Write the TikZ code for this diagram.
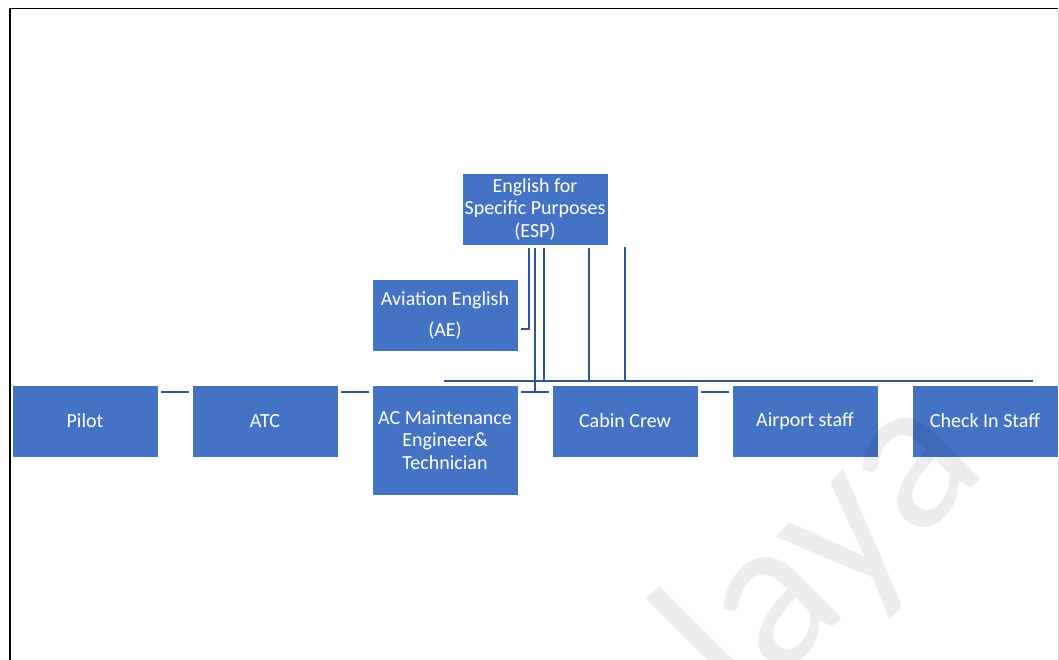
\documentclass[tikz,border=0pt]{standalone}
\usepackage{fontspec}
\setmainfont{Carlito}
\usetikzlibrary{calc}
\definecolor{boxblue}{HTML}{4472C4}
\definecolor{linkblue}{HTML}{2F5597}
\begin{document}
\begin{tikzpicture}[x=1pt,y=-1pt,
  rolebox/.style={rectangle, fill=boxblue, draw=white, line width=0.8pt,
    minimum width=146pt, minimum height=72pt, inner sep=0pt, outer sep=0pt,
    text=white, align=center, font=\fontsize{20}{22.5}\selectfont},
  conn/.style={draw=linkblue, line width=2.2pt},
  frame/.style={draw=black, line width=1.6pt}]
\useasboundingbox (0,0) rectangle (1059,660);

% page frame
\draw[frame] (10,660) -- (10,8.5) -- (1058,8.5);
\draw[black!20, line width=1pt] (1058.5,9) -- (1058.5,660);

% top level
\node[rolebox] (esp) at (535,209) {English for\\Specific Purposes\\(ESP)};
\node[rolebox, font=\fontsize{20}{31}\selectfont] (ae) at (445,315) {Aviation English\\(AE)};

% row of roles
\node[rolebox] (pilot)   at (85,421)  {Pilot};
\node[rolebox] (atc)     at (265,421) {ATC};
\node[rolebox, minimum height=110pt] (acm) at (445,440) {AC Maintenance\\Engineer\&\\Technician};
\node[rolebox] (cabin)   at (625,421) {Cabin Crew};
\node[rolebox] (airport) at (805,421) {Airport staff};
\node[rolebox] (checkin) at (985,421) {Check In Staff};

% short links along the row
\draw[conn] ($(pilot.north east)+(3,7)$) -- ($(atc.north west)+(-3,7)$);
\draw[conn] ($(atc.north east)+(3,7)$) -- ($(acm.north west)+(-3,7)$);
\draw[conn] ($(acm.north east)+(3,7)$) -- ($(cabin.north west)+(-3,7)$);
\draw[conn] ($(cabin.north east)+(3,7)$) -- ($(airport.north west)+(-3,7)$);

% bus above the row
\coordinate (busL) at (444,381);
\coordinate (busR) at (1033,381);
\draw[conn] (busL) -- (busR);

% drops from ESP
\coordinate (e1) at ($(esp.south west)+(67,3)$);
\coordinate (e2) at ($(esp.south west)+(73,3)$);
\coordinate (e3) at ($(esp.south west)+(82,3)$);
\coordinate (e4) at ($(esp.south west)+(127,3)$);
\coordinate (e5) at ($(esp.south west)+(163,2)$);
\draw[conn] (e1) |- ($(ae.east)+(3,14)$);
\draw[conn] (e2) -- ($(acm.north east)+(17,7)$);
\draw[conn] (e3) -- (e3 |- busL);
\draw[conn] (e4) -- (e4 |- busL);
\draw[conn] (e5) -- (e5 |- busL);

% watermark
\begin{scope}
\clip (0,0) rectangle (1059,660);
\node[anchor=base west, rotate=45, inner sep=0pt, text=black, text opacity=0.07,
  font=\fontsize{218}{218}\selectfont] (wm) at (742,718) {laya};
\end{scope}
\end{tikzpicture}
\end{document}
